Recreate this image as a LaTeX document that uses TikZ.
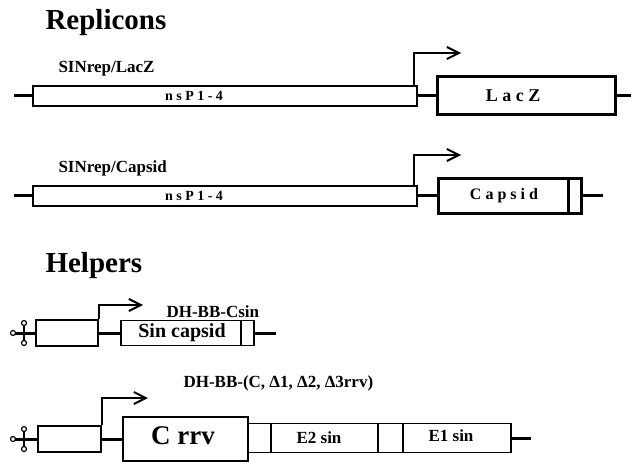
\documentclass[tikz,border=0pt]{standalone}
\usepackage{fontspec}
\setmainfont{Liberation Serif}
\usetikzlibrary{arrows.meta}
\newcommand{\fsz}[1]{\fontsize{#1}{#1}\selectfont\bfseries}
\begin{document}
\begin{tikzpicture}[x=1pt,y=-1pt,
  gene/.style={draw, line width=1.8pt, inner sep=0pt, anchor=west, fill=white},
  wire/.style={line width=3pt},
  prom/.style={line width=2.2pt, -{Straight Barb[length=12pt,width=12pt,line width=2pt]}},
  title/.style={anchor=base west, font=\fsz{29}},
  lbl/.style={anchor=base west, font=\fsz{17}},
  inbox/.style={font=\fsz{#1}},
  spaced/.style={font=\fsz{#1}\addfontfeatures{LetterSpace=25}},
  cutdot/.style={draw, line width=1.2pt, fill=white, circle, inner sep=0pt, minimum size=5pt}
]
\useasboundingbox (0,0) rectangle (631,462);

% ---------- titles ----------
\node[title] (t1) at (42,30) {Replicons};
\node[title] (t2) at (42,272) {Helpers};

% ---------- Row 1 : SINrep/LacZ ----------
\node[lbl] (n1) at (55,73) {SINrep/LacZ};
\coordinate (a1) at (14,96);
\node[gene, minimum width=384pt, minimum height=20pt] (nsp1) at (32,96) {};
\node[spaced=14] (nsp1t) at (194,96) {nsP1-4};
\node[gene, line width=3pt, minimum width=178pt, minimum height=38pt] (lacz) at (436,96) {};
\node[spaced=18] (laczt) at (513,96) {LacZ};
\coordinate (b1) at (631,96);
\coordinate (p1) at (461,53);
\draw[wire] (a1) -- (nsp1.west);
\draw[wire] (nsp1.east) -- (lacz.west);
\draw[wire] (lacz.east) -- (b1);
\draw[prom] ([xshift=-4pt]nsp1.north east) |- (p1);

% ---------- Row 2 : SINrep/Capsid ----------
\node[lbl] (n2) at (55,173) {SINrep/Capsid};
\coordinate (a2) at (14,196);
\node[gene, minimum width=384pt, minimum height=20pt] (nsp2) at (32,196) {};
\node[spaced=14] (nsp2t) at (194,196) {nsP1-4};
\node[gene, line width=2.5pt, minimum width=130pt, minimum height=35pt] (cap) at (437,196) {};
\node[spaced=16] (capt) at (504,196) {Capsid};
\node[gene, line width=2.5pt, minimum width=13pt, minimum height=35pt] (capend) at (567,196) {};
\coordinate (b2) at (603,196);
\coordinate (p2) at (461,155);
\draw[wire] (a2) -- (nsp2.west);
\draw[wire] (nsp2.east) -- (cap.west);
\draw[wire] (capend.east) -- (b2);
\draw[prom] ([xshift=-4pt]nsp2.north east) |- (p2);

% ---------- Row 3 : DH-BB-Csin ----------
\node[lbl] (n3) at (163,317) {DH-BB-Csin};
\coordinate (a3) at (13,333);
\coordinate (c3) at (24,333);
\node[gene, minimum width=62pt, minimum height=26pt] (sb3) at (35,333) {};
\node[gene, minimum width=120pt, minimum height=25pt] (sc) at (120,333) {};
\node[inbox=20] (sct) at (182,333) {Sin capsid};
\node[gene, minimum width=13pt, minimum height=25pt] (scend) at (240,333) {};
\coordinate (b3) at (276,333);
\coordinate (p3) at (143,305);
\draw[wire] (a3) -- (sb3.west);
\draw[line width=2pt] ([yshift=-10pt]c3) coordinate (u3) -- ([yshift=10pt]c3) coordinate (d3);
\node[cutdot] (k3a) at (a3) {};
\node[cutdot] (k3u) at (u3) {};
\node[cutdot] (k3d) at (d3) {};
\draw[wire] (sb3.east) -- (sc.west);
\draw[wire] (scend.east) -- (b3);
\draw[prom] (sb3.north east) |- (p3);

% ---------- Row 4 : DH-BB-(C, D1, D2, D3rrv) ----------
\node[lbl] (n4) at (180,387) {DH-BB-(C, Δ1, Δ2, Δ3rrv)};
\coordinate (a4) at (13,439);
\coordinate (c4) at (24,439);
\node[gene, minimum width=63pt, minimum height=26pt] (sb4) at (37,439) {};
\node[gene, line width=2.2pt, minimum width=125pt, minimum height=44pt] (crrv) at (122,439) {};
\node[inbox=27] (crrvt) at (183,436) {C rrv};
\node[gene, minimum width=23pt, minimum height=29pt] (g0) at (247,438) {};
\node[gene, minimum width=107pt, minimum height=29pt] (e2) at (270,438) {};
\node[inbox=17] (e2t) at (319,438) {E2 sin};
\node[gene, minimum width=25pt, minimum height=29pt] (g1) at (377,438) {};
\node[gene, minimum width=108pt, minimum height=29pt] (e1) at (402,438) {};
\node[inbox=17] (e1t) at (451,436) {E1 sin};
\coordinate (b4) at (531,438);
\coordinate (p4) at (148,398);
\draw[wire] (a4) -- (sb4.west);
\draw[line width=2pt] ([yshift=-10pt]c4) coordinate (u4) -- ([yshift=10pt]c4) coordinate (d4);
\node[cutdot] (k4a) at (a4) {};
\node[cutdot] (k4u) at (u4) {};
\node[cutdot] (k4d) at (d4) {};
\draw[wire] (sb4.east) -- (crrv.west);
\draw[wire] (e1.east) -- (b4);
\draw[prom] (sb4.north east) |- (p4);
\end{tikzpicture}
\end{document}
